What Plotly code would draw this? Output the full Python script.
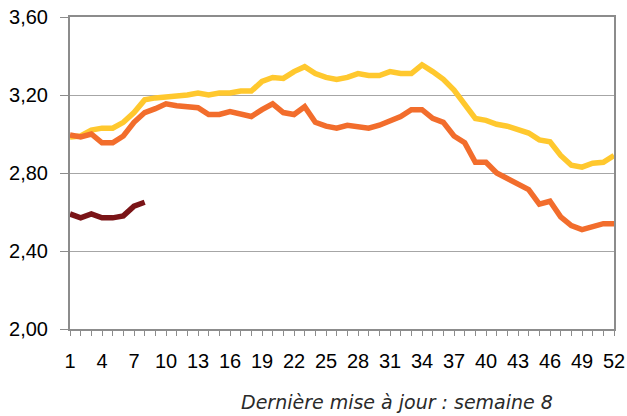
import plotly.graph_objects as go

weeks = list(range(1, 53))
tick_weeks = list(range(1, 53, 3))

serie_jaune = [2.985, 2.99, 3.02, 3.03, 3.03, 3.06, 3.11, 3.175, 3.185, 3.19,
               3.19, 3.20, 3.21, 3.20, 3.21, 3.21, 3.22, 3.22, 3.27, 3.29,
               3.285, 3.32, 3.345, 3.31, 3.29, 3.28, 3.29, 3.31, 3.30, 3.30,
               3.32, 3.31, 3.31, 3.355, 3.32, 3.28, 3.225, 3.155, 3.08, 3.07,
               3.05, 3.04, 3.025, 3.005, 2.97, 2.96, 2.89, 2.84, 2.83, 2.85,
               2.855, 2.89]
serie_orange = [2.995, 2.985, 3.00, 2.955, 2.955, 2.99, 3.06, 3.11, 3.13, 3.155,
                3.145, 3.14, 3.135, 3.10, 3.10, 3.115, 3.105, 3.09, 3.125, 3.155,
                3.11, 3.10, 3.14, 3.06, 3.04, 3.03, 3.045, 3.035, 3.03, 3.045,
                3.07, 3.09, 3.125, 3.125, 3.08, 3.06, 2.99, 2.955, 2.855, 2.855,
                2.80, 2.77, 2.745, 2.715, 2.64, 2.655, 2.575, 2.53, 2.51, 2.525,
                2.54, 2.54]
serie_rouge = [2.59, 2.57, 2.59, 2.57, 2.57, 2.58, 2.63, 2.65]

y_ticks = [2.0, 2.4, 2.8, 3.2, 3.6]

fig = go.Figure()
fig.add_trace(go.Scatter(x=weeks, y=serie_jaune, mode="lines",
                         line=dict(color="#FFC82E", width=5.5), showlegend=False))
fig.add_trace(go.Scatter(x=weeks, y=serie_orange, mode="lines",
                         line=dict(color="#F26D2C", width=5.5), showlegend=False))
fig.add_trace(go.Scatter(x=weeks[:len(serie_rouge)], y=serie_rouge, mode="lines",
                         line=dict(color="#7A1417", width=5.5), showlegend=False))

axis_color = "#8C8C8C"
fig.update_layout(
    width=627, height=416,
    margin=dict(l=70, r=13, t=17, b=87),
    paper_bgcolor="white", plot_bgcolor="white",
    separators=", ",
    font=dict(family="Liberation Sans, Arial, sans-serif", size=20, color="#000000"),
    xaxis=dict(range=[1, 52], tickmode="array", tickvals=tick_weeks,
               ticktext=[str(w) for w in tick_weeks], automargin=False,
               showgrid=False, zeroline=False,
               showline=True, linecolor=axis_color, linewidth=2, mirror=True,
               ticks="outside", ticklen=5, tickcolor=axis_color,
               minor=dict(dtick=1, tick0=1, ticks="outside", ticklen=5, tickcolor=axis_color),
               ticklabelstandoff=8),
    yaxis=dict(range=[2.0, 3.6], tickvals=y_ticks, tickformat=".2f", automargin=False,
               showgrid=True, gridcolor="#A6A6A6", gridwidth=1, zeroline=False,
               showline=True, linecolor=axis_color, linewidth=2, mirror=True,
               ticks="outside", ticklen=8, tickcolor=axis_color,
               ticklabelstandoff=8),
    annotations=[dict(text="<i>Dernière mise à jour : semaine 8</i>",
                      xref="paper", yref="paper", x=0.601, y=-0.234,
                      xanchor="center", yanchor="middle", showarrow=False,
                      font=dict(family="DejaVu Sans, sans-serif", size=19, color="#2A2A2A"))],
)

fig.write_html("out.html", config={"displayModeBar": False},
               post_script="document.body.style.margin='0';document.body.style.overflow='hidden';")
